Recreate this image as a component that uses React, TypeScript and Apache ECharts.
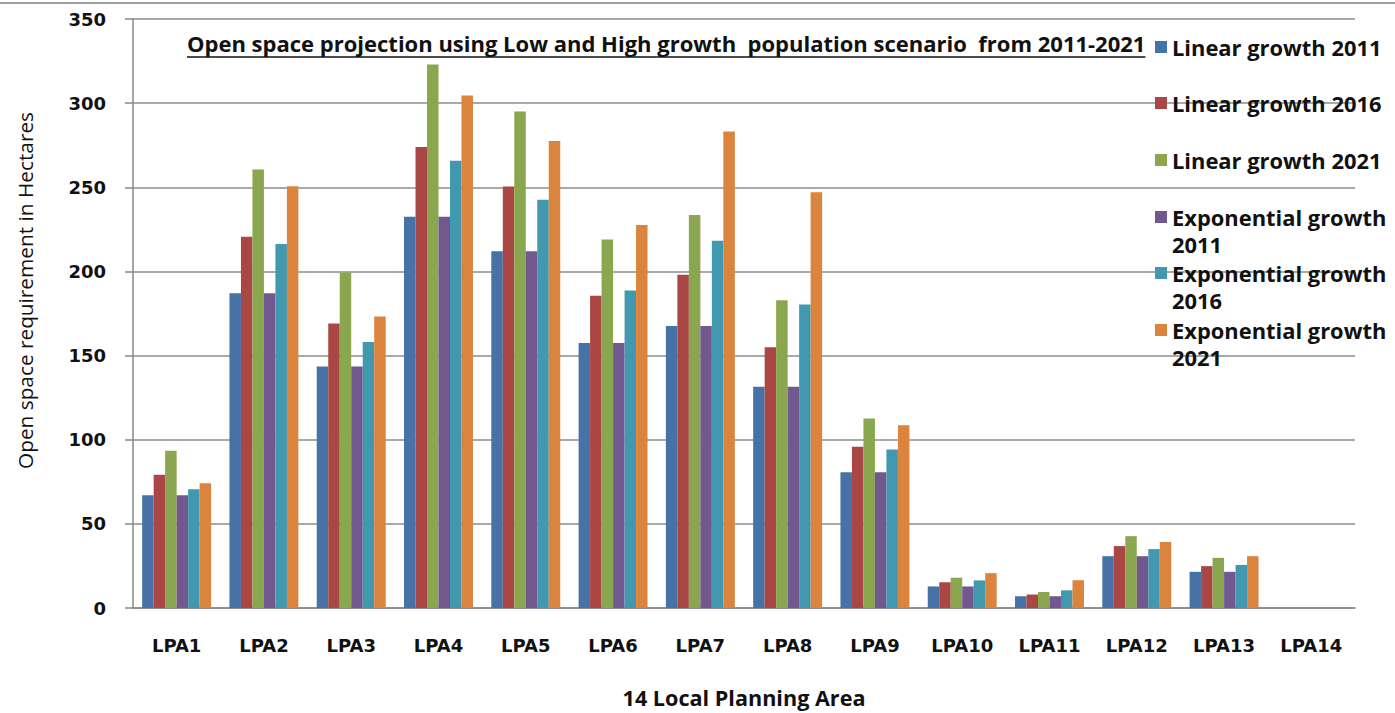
import React, { useEffect, useRef } from "react";
import * as echarts from "echarts";

const categories = ["LPA1", "LPA2", "LPA3", "LPA4", "LPA5", "LPA6", "LPA7", "LPA8", "LPA9", "LPA10", "LPA11", "LPA12", "LPA13", "LPA14"];
const linear2011 = [67, 187, 143.5, 232.5, 212, 157.5, 167.5, 131.5, 80.7, 12.8, 7, 30.8, 21.5, 0];
const linear2016 = [79.2, 220.6, 169, 274, 250.5, 185.5, 198, 155, 95.8, 15.3, 8, 36.8, 24.9, 0];
const linear2021 = [93.5, 260.5, 199.4, 323, 295, 219, 233.5, 182.8, 112.6, 18, 9.5, 42.7, 29.8, 0];
const exp2011 = [67, 187, 143.5, 232.5, 212, 157.5, 167.5, 131.5, 80.7, 12.8, 7, 30.8, 21.5, 0];
const exp2016 = [70.6, 216.3, 158, 265.7, 242.6, 188.6, 218.3, 180.3, 94.2, 16.4, 10.5, 35, 25.6, 0];
const exp2021 = [74.2, 250.6, 173.2, 304.6, 277.5, 227.6, 283.2, 247, 108.6, 20.7, 16.5, 39.2, 30.8, 0];

const seriesNames = ["Linear growth 2011", "Linear growth 2016", "Linear growth 2021", "Exponential growth 2011", "Exponential growth 2016", "Exponential growth 2021"];
const seriesData = [linear2011, linear2016, linear2021, exp2011, exp2016, exp2021];
const colors = ["#4672A8", "#AA4644", "#8AA64F", "#71588F", "#4198AF", "#DB843D"];

const titleText = "Open space projection using Low and High growth  population scenario  from 2011-2021";
const yTitle = "Open space requirement in Hectares";
const xTitle = "14 Local Planning Area";

const CALF = "Open Sans";
const CAL = "'Open Sans', Lato, sans-serif";
const TAH = "'DejaVu Sans', Verdana, sans-serif";

function measure(text: string, font: string) {
  const c = document.createElement("canvas");
  const ctx = c.getContext("2d");
  if (!ctx) return text.length * 10;
  ctx.font = font;
  return ctx.measureText(text).width;
}

function fitSize(text: string, weight: string, target: number) {
  const w = measure(text, `${weight} 20px '${CALF}'`);
  return Math.round((20 * target / w) * 10) / 10;
}

export default function App() {
  const ref = useRef<HTMLDivElement>(null);
  useEffect(() => {
    if (!ref.current) return;
    const chart = echarts.init(ref.current, null, { renderer: "svg" });
    const titleSize = fitSize(titleText, "bold", 960);
    const legendSize = fitSize("Linear growth 2011", "bold", 210);
    const xTitleSize = fitSize(xTitle, "bold", 243);
    const yTitleSize = fitSize(yTitle, "normal", 357);
    const titleLeft = 187;
    const titleW = measure(titleText, `bold ${titleSize}px '${CALF}'`);
    const legendTops = [33.5, 89.5, 146.5, 176.5, 232.5, 289.5];
    const legends = seriesNames.map((n, i) => ({
      data: [n],
      orient: "vertical",
      left: 1155,
      top: legendTops[i],
      padding: 0,
      itemWidth: 12,
      itemHeight: 12,
      itemGap: 8,
      icon: "rect",
      formatter: (name: string) => (name.indexOf("Exponential") === 0 ? "\n" + name.replace("growth ", "growth\n") : name),
      textStyle: {
        fontFamily: CAL,
        fontWeight: "bold",
        fontSize: legendSize,
        lineHeight: 27,
        color: "#111",
      },
    }));
    chart.setOption({
      animation: false,
      color: colors,
      title: {
        text: titleText,
        left: titleLeft,
        top: 32,
        padding: 0,
        textStyle: { fontFamily: CAL, fontWeight: "bold", fontSize: titleSize, color: "#111" },
      },
      legend: legends,
      grid: { left: 133, right: 40, top: 19, bottom: 102, containLabel: false },
      xAxis: {
        type: "category",
        data: categories,
        name: xTitle,
        nameLocation: "middle",
        nameGap: 78,
        nameTextStyle: { fontFamily: CAL, fontWeight: "bold", fontSize: xTitleSize, color: "#111" },
        axisLine: { lineStyle: { color: "#888", width: 1.5 } },
        axisTick: { length: 9, lineStyle: { color: "#888", width: 1.5 } },
        axisLabel: { margin: 28, fontFamily: TAH, fontWeight: "bold", fontSize: 18, color: "#111" },
      },
      yAxis: {
        type: "value",
        min: 0,
        max: 350,
        interval: 50,
        name: yTitle,
        nameLocation: "middle",
        nameGap: 98,
        nameRotate: 90,
        nameTextStyle: { fontFamily: CAL, fontSize: yTitleSize, color: "#111", padding: [0, 0, 0, 46] },
        axisLine: { show: true, lineStyle: { color: "#888", width: 1.5 } },
        axisTick: { show: true, length: 8, lineStyle: { color: "#888", width: 1.5 } },
        axisLabel: { margin: 27, fontFamily: TAH, fontWeight: "bold", fontSize: 18, color: "#111" },
        splitLine: { lineStyle: { color: "#8c8c8c", width: 1.5 } },
      },
      graphic: [
        { type: "line", shape: { x1: 0, y1: 3, x2: 1395, y2: 3 }, style: { stroke: "#9aa0a0", lineWidth: 2 } },
        { type: "line", shape: { x1: titleLeft, y1: 57, x2: titleLeft + titleW, y2: 57 }, style: { stroke: "#111", lineWidth: 1.5 } },
      ],
      series: seriesNames.map((n, i) => ({
        name: n,
        type: "bar",
        data: seriesData[i],
        barGap: "0%",
        barCategoryGap: "21%",
        itemStyle: { color: colors[i] },
      })),
    });
    return () => chart.dispose();
  }, []);
  return <div ref={ref} style={{ position: "fixed", left: 0, top: 0, width: 1395, height: 713, background: "#fff" }} />;
}
